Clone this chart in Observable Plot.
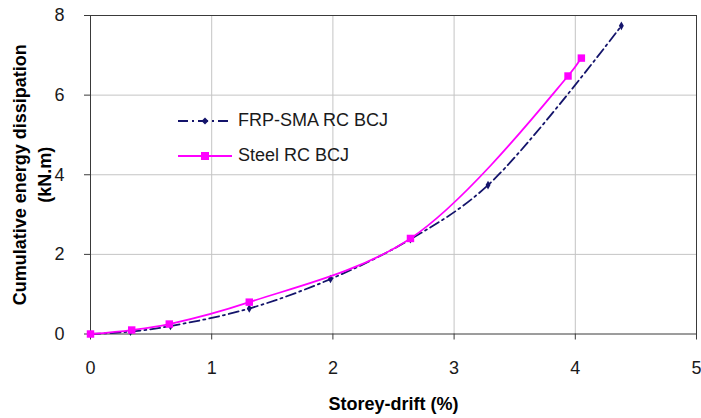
<!DOCTYPE html>
<html>
<head>
<meta charset="utf-8">
<script src="https://cdn.jsdelivr.net/npm/d3@7"></script>
<script src="https://cdn.jsdelivr.net/npm/@observablehq/plot@0.6"></script>
<style>
  body { margin: 0; background: #fff; font-family: "Liberation Sans", Arial, sans-serif; }
  #wrap { position: relative; width: 701px; height: 418px; }
  #legend { position: absolute; left: 176px; top: 103px; font-size: 18px; color: #1a1a1a; }
  .row { display: flex; align-items: center; height: 35px; }
  .row span { margin-left: 4px; }
</style>
</head>
<body>
<div id="wrap"></div>
<script>
const seriesNames = ["FRP-SMA RC BCJ", "Steel RC BCJ"];
const driftFRP = [0, 0.33, 0.66, 1.31, 1.98, 2.64, 3.28, 4.38];
const energyFRP = [0, 0.06, 0.2, 0.64, 1.38, 2.38, 3.74, 7.74];
const driftSteel = [0, 0.34, 0.65, 1.31, 2.64, 3.94, 4.05];
const energySteel = [0, 0.1, 0.25, 0.8, 2.4, 6.48, 6.93];
const xTicks = [0, 1, 2, 3, 4, 5];
const yTicks = [0, 2, 4, 6, 8];

const frp = driftFRP.map((d, i) => ({drift: d, energy: energyFRP[i]}));
const steel = driftSteel.map((d, i) => ({drift: d, energy: energySteel[i]}));

const navy = "#14146b";
const pink = "#ff00ff";
const fmt = d3.format("d");

const chart = Plot.plot({
  width: 701,
  height: 418,
  marginLeft: 90,
  marginRight: 5,
  marginTop: 15,
  marginBottom: 84.5,
  style: {fontFamily: "Liberation Sans, Arial, sans-serif", fontSize: "18px", color: "#1a1a1a", background: "#fff"},
  x: {domain: [0, 5], ticks: xTicks, label: null},
  y: {domain: [0, 8], ticks: yTicks, label: null},
  marks: [
    Plot.gridX(xTicks.slice(1, -1), {stroke: "#c4c4c4", strokeOpacity: 1}),
    Plot.gridY(yTicks.slice(1, -1), {stroke: "#c4c4c4", strokeOpacity: 1}),
    Plot.frame({stroke: "#3a3a3a"}),
    Plot.axisX(xTicks, {tickSize: 6, tickPadding: 21, stroke: "#3a3a3a", fontSize: 18, tickFormat: fmt}),
    Plot.axisY(yTicks, {tickSize: 6, tickPadding: 20, stroke: "#3a3a3a", fontSize: 18, tickFormat: fmt}),
    Plot.line(frp, {x: "drift", y: "energy", stroke: navy, strokeWidth: 1.8, strokeDasharray: "10,4,2,4", curve: "catmull-rom"}),
    Plot.dot(frp, {x: "drift", y: "energy", symbol: "diamond", r: 2.6, fill: navy}),
    Plot.line(steel, {x: "drift", y: "energy", stroke: pink, strokeWidth: 1.8, curve: "catmull-rom"}),
    Plot.dot(steel, {x: "drift", y: "energy", symbol: "square", r: 4.2, fill: pink}),
    Plot.text(["Cumulative energy dissipation\n(kN.m)"], {frameAnchor: "left", rotate: -90, dx: -60, textAnchor: "middle", lineAnchor: "middle", fontWeight: "bold", fontSize: 18, lineHeight: 1.4, fill: "#000"}),
    Plot.text(["Storey-drift (%)"], {frameAnchor: "bottom", dy: 70, textAnchor: "middle", lineAnchor: "middle", fontWeight: "bold", fontSize: 18, fill: "#000"})
  ]
});
const wrap = document.getElementById("wrap");
wrap.appendChild(chart);

const legend = document.createElement("div");
legend.id = "legend";
legend.innerHTML = `
<div class="row"><svg width="58" height="10"><line x1="2" y1="5" x2="56" y2="5" stroke="${navy}" stroke-width="1.8" stroke-dasharray="10,4,2,4"/><path d="M29,1.5 L32.5,5 L29,8.5 L25.5,5Z" fill="${navy}"/></svg><span>${seriesNames[0]}</span></div>
<div class="row"><svg width="58" height="10"><line x1="2" y1="5" x2="56" y2="5" stroke="${pink}" stroke-width="1.8"/><rect x="25" y="1" width="8" height="8" fill="${pink}"/></svg><span>${seriesNames[1]}</span></div>`;
wrap.appendChild(legend);
</script>
</body>
</html>
